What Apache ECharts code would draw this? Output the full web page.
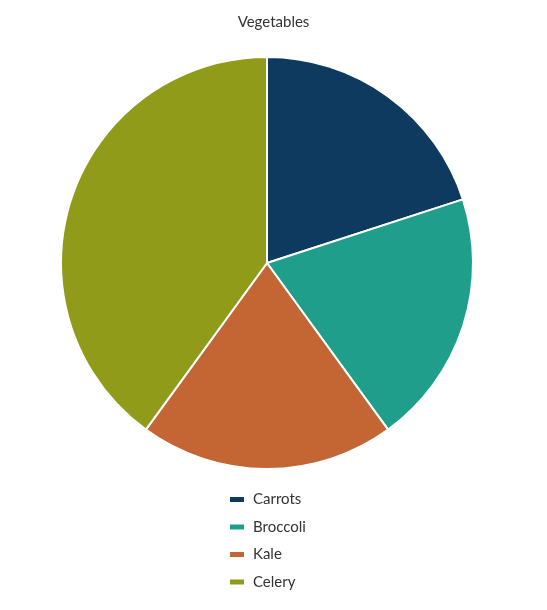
<!DOCTYPE html>
<html lang="en">
<head>
    <meta charset="UTF-8">
    <title>Vegetables</title>
    <script src="https://cdn.jsdelivr.net/npm/echarts@6/dist/echarts.min.js"></script>
    <style>
        body {
            margin: 0;
            padding: 0;
            background: #fff;
        }

        #box {
            width: 547px;
            height: 610px;
        }
    </style>
</head>
<body>
<div id="box"></div>
<script>
    // 数据
    var categories = ['Carrots', 'Broccoli', 'Kale', 'Celery'];
    var values = [20, 20, 20, 40];
    var colors = ['#0e3a5f', '#1f9f8b', '#c46634', '#8f9b19'];

    var seriesData = categories.map(function (name, i) {
        return {name: name, value: values[i]};
    });

    var myChart = echarts.init(document.getElementById('box'));
    var option = {
        color: colors,
        textStyle: {
            fontFamily: 'Lato'
        },
        title: {
            text: 'Vegetables',
            left: 'center',
            top: 10,
            textStyle: {
                fontSize: 15,
                fontWeight: 'normal',
                color: '#333'
            }
        },
        legend: {
            orient: 'vertical',
            left: 223,
            top: 487,
            itemWidth: 16,
            itemHeight: 7,
            itemGap: 12.5,
            icon: 'rect',
            textStyle: {
                fontSize: 15,
                color: '#333',
                padding: [0, 0, 0, 3]
            },
            data: categories
        },
        series: [
            {
                type: 'pie',
                center: [267, 263],
                radius: 206,
                startAngle: 90,
                clockwise: true,
                label: {show: false},
                labelLine: {show: false},
                itemStyle: {
                    borderColor: '#fff',
                    borderWidth: 2
                },
                data: seriesData
            }
        ]
    };
    myChart.setOption(option);
</script>
</body>
</html>
